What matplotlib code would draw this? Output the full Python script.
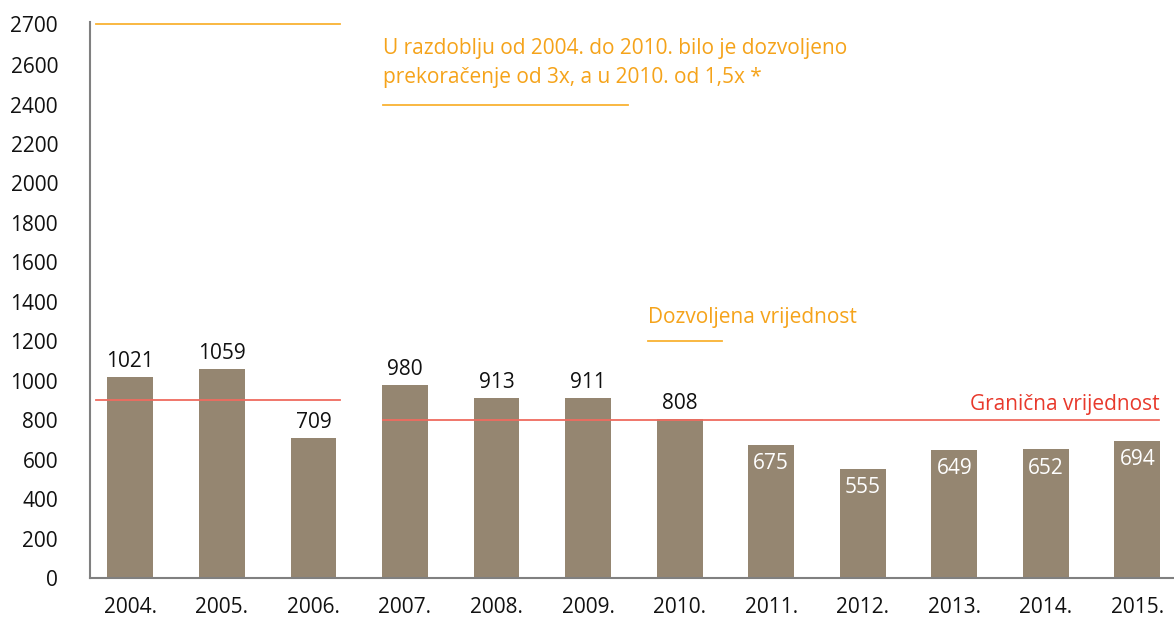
import numpy as np
import matplotlib.pyplot as plt

plt.rcParams['font.family'] = ['Open Sans', 'DejaVu Sans']

# podaci
godine = ['2004.', '2005.', '2006.', '2007.', '2008.', '2009.', '2010.',
          '2011.', '2012.', '2013.', '2014.', '2015.']
vrijednosti = [1021, 1059, 709, 980, 913, 911, 808, 675, 555, 649, 652, 694]

y_ticks = [0, 200, 400, 600, 800, 1000, 1200, 1400, 1600, 1800, 2000, 2200, 2400, 2600, 2810]
y_labels = ['0', '200', '400', '600', '800', '1000', '1200', '1400', '1600', '1800',
            '2000', '2200', '2400', '2600', '2700']

# granicne i dozvoljene vrijednosti (kako su nacrtane na slici)
granicna_1 = 900     # 2004.-2006.
granicna_2 = 800     # 2007.-2015.
dozvoljena_1 = 2810  # 3x, 2004.-2006. (oznaceno kao 2700)
dozvoljena_2 = 2400  # 3x, 2007.-2009.
dozvoljena_3 = 1200  # 1,5x, 2010.

bar_boja = '#958671'
narancasta = '#f9b233'
narancasta_tekst = '#f5a31a'
crvena = '#ef6b5f'
crvena_tekst = '#e8392c'
fs = 15

fig = plt.figure(figsize=(11.74, 6.21), dpi=100)
ax = fig.add_axes([0.0767, 0.0692, 0.9233, 0.8953])

x = np.arange(len(godine))
ax.bar(x, vrijednosti, width=0.5, color=bar_boja, zorder=2)

# oznake vrijednosti
for i, v in enumerate(vrijednosti):
    if i < 7:
        ax.text(i, v + 25, str(v), ha='center', va='bottom', fontsize=fs, color='#111111', zorder=4)
    else:
        ax.text(i, v - 95, str(v), ha='center', va='center', fontsize=fs, color='white', zorder=4)

# linije
ax.plot([-0.38, 2.29], [granicna_1, granicna_1], color=crvena, lw=1.3, zorder=3)
ax.plot([2.76, 11.24], [granicna_2, granicna_2], color=crvena, lw=1.3, zorder=3)
ax.plot([-0.38, 2.29], [dozvoljena_1, dozvoljena_1], color=narancasta, lw=1.3, zorder=3, clip_on=False)
ax.plot([2.76, 5.44], [dozvoljena_2, dozvoljena_2], color=narancasta, lw=1.3, zorder=3)
ax.plot([5.65, 6.46], [dozvoljena_3, dozvoljena_3], color=narancasta, lw=1.3, zorder=3)

ax.text(2.76, 2686, 'U razdoblju od 2004. do 2010. bilo je dozvoljeno', ha='left', va='center',
        fontsize=fs, color=narancasta_tekst)
ax.text(2.76, 2539, 'prekoračenje od 3x, a u 2010. od 1,5x *', ha='left', va='center',
        fontsize=fs, color=narancasta_tekst)
ax.text(5.65, 1318, 'Dozvoljena vrijednost', ha='left', va='center',
        fontsize=fs, color=narancasta_tekst)
ax.text(11.24, 882, 'Granična vrijednost', ha='right', va='center',
        fontsize=fs, color=crvena_tekst)

ax.set_xlim(-0.44, 11.4)
ax.set_ylim(0, 2818)
ax.set_xticks(x)
ax.set_xticklabels(godine, fontsize=fs, color='#111111')
ax.set_yticks(y_ticks)
ax.set_yticklabels(y_labels, fontsize=fs, color='#111111')
ax.tick_params(axis='both', length=0)
ax.tick_params(axis='y', pad=23)
ax.tick_params(axis='x', pad=14)

for s in ['top', 'right']:
    ax.spines[s].set_visible(False)
ax.spines['left'].set_color('#808080')
ax.spines['bottom'].set_color('#808080')
ax.spines['left'].set_linewidth(1.5)
ax.spines['bottom'].set_linewidth(1.5)

fig.savefig('out.png', dpi=100)
